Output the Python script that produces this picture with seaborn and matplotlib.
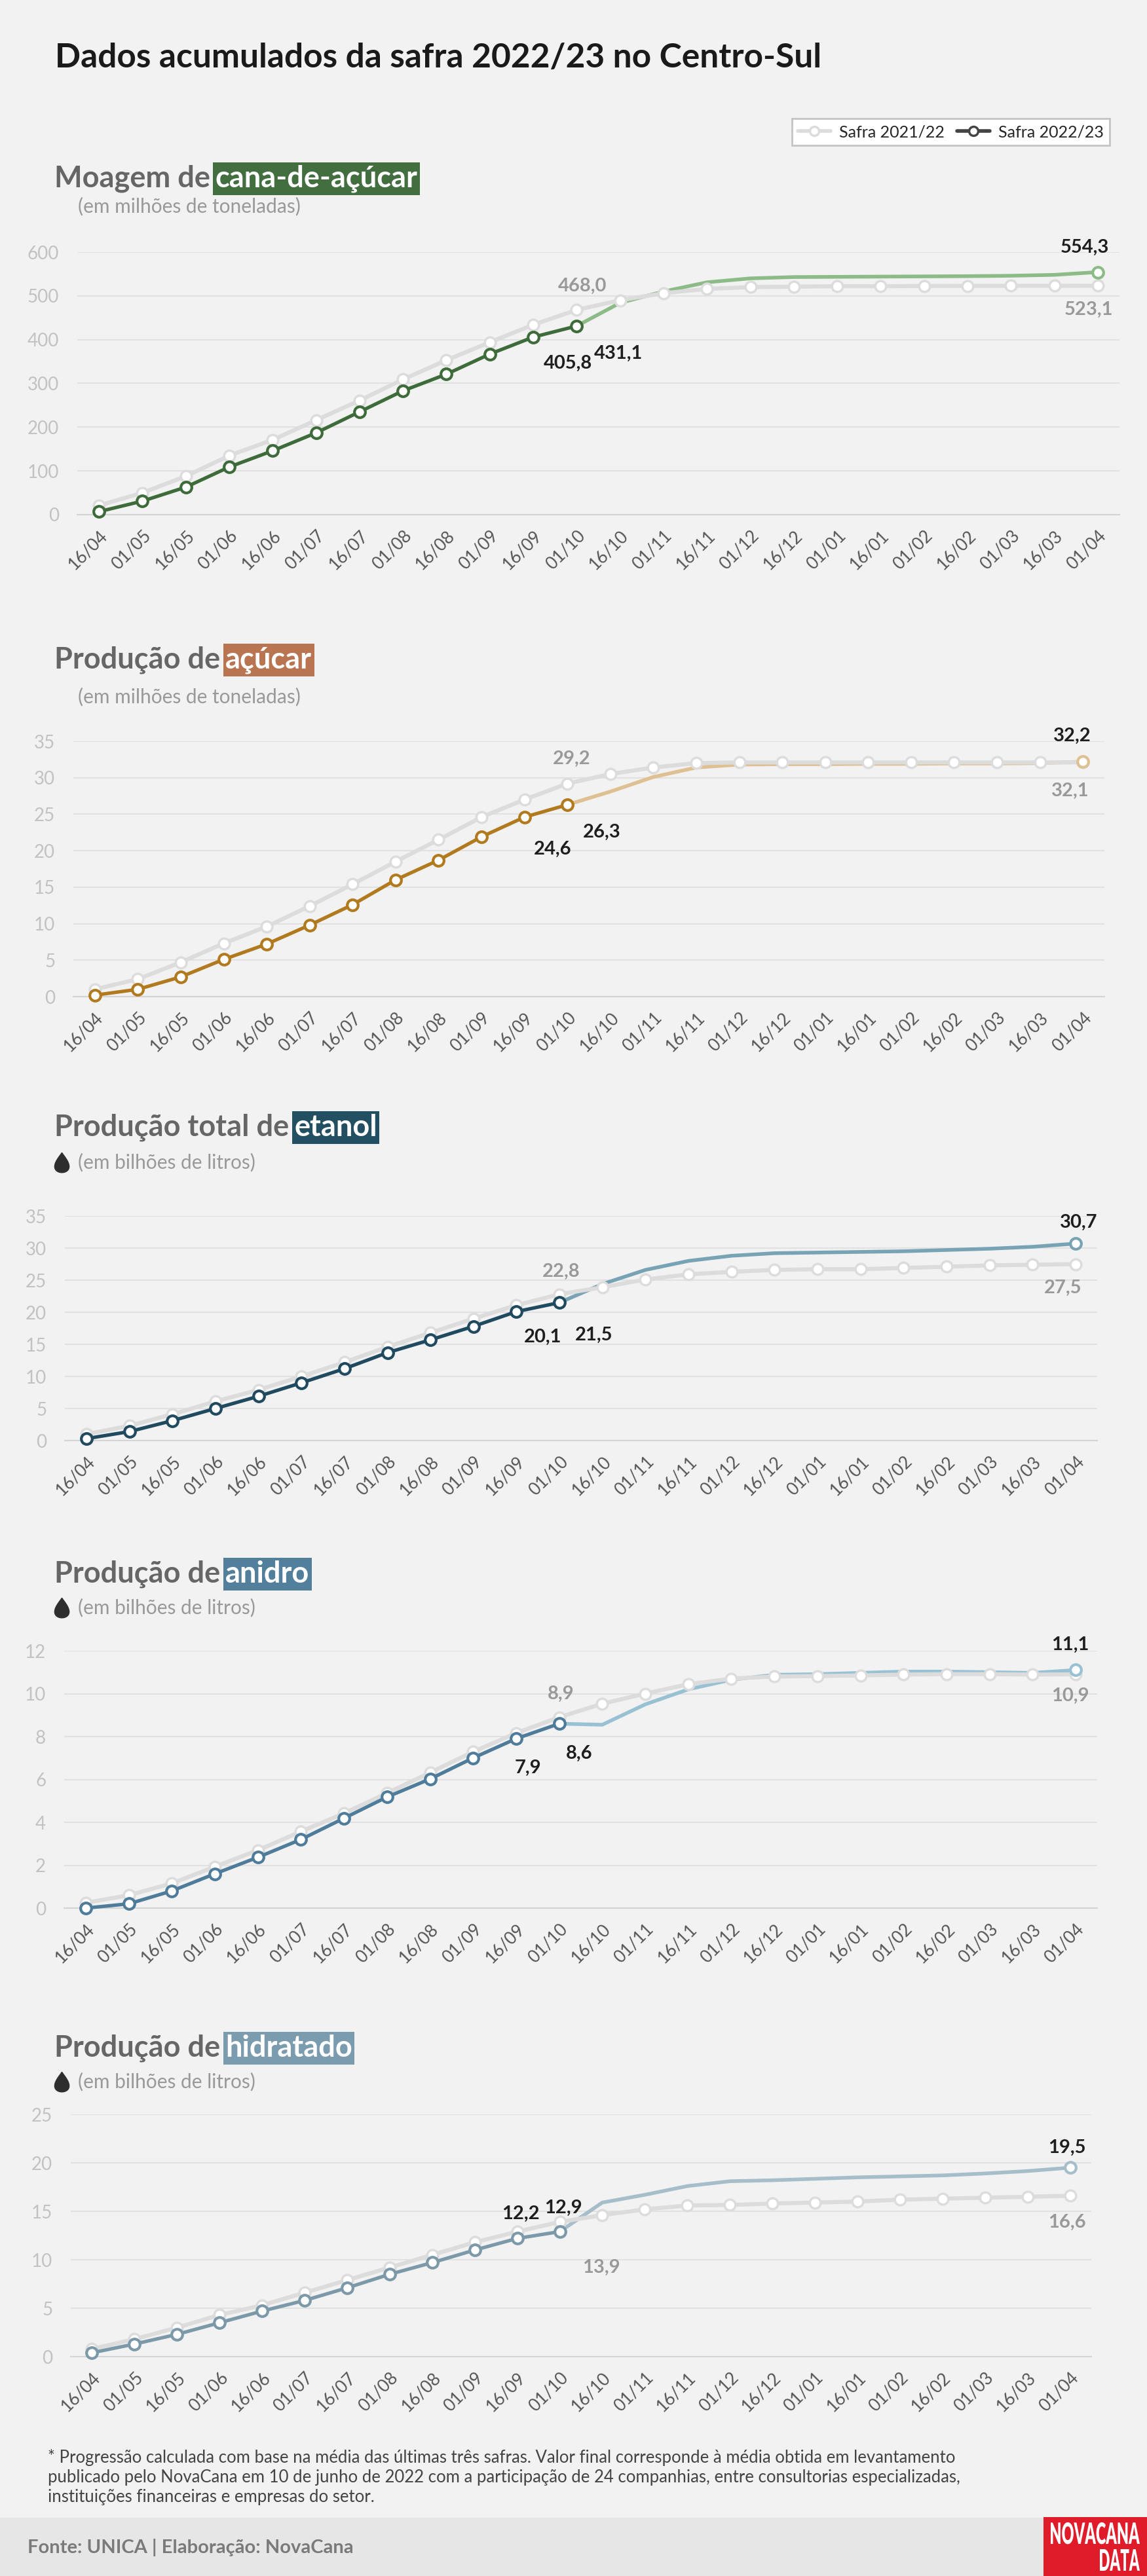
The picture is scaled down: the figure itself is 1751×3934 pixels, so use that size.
import numpy as np
import matplotlib
matplotlib.use("Agg")
import matplotlib.pyplot as plt
from matplotlib.lines import Line2D
from matplotlib.path import Path
from matplotlib.patches import Rectangle, PathPatch
from matplotlib.textpath import TextPath
from matplotlib.font_manager import FontProperties
from matplotlib.transforms import Affine2D, IdentityTransform
import seaborn as sns

# DATA
periodos = ["16/04", "01/05", "16/05", "01/06", "16/06", "01/07", "16/07", "01/08",
            "16/08", "01/09", "16/09", "01/10", "16/10", "01/11", "16/11", "01/12",
            "16/12", "01/01", "16/01", "01/02", "16/02", "01/03", "16/03", "01/04"]

moagem_2122 = [21, 50, 88, 135, 171, 216, 261, 309, 353, 394, 434, 468.0, 490, 506,
               516, 520, 521, 522, 522, 522.5, 522.8, 523, 523, 523.1]
moagem_2223 = [7, 31, 63, 109, 146, 187, 235, 283, 321, 367, 405.8, 431.1]
moagem_proj = [431.1, 484, 510, 531, 540, 543, 543.5, 544, 544.5, 545, 546, 548, 554.3]

acucar_2122 = [1.0, 2.4, 4.7, 7.3, 9.6, 12.4, 15.4, 18.5, 21.5, 24.6, 27.0, 29.2, 30.5,
               31.4, 32.0, 32.1, 32.1, 32.1, 32.1, 32.1, 32.1, 32.1, 32.1, 32.1]
acucar_2223 = [0.2, 1.0, 2.7, 5.1, 7.2, 9.8, 12.6, 16.0, 18.7, 21.9, 24.6, 26.3]
acucar_proj = [26.3, 28.1, 30.1, 31.4, 31.8, 31.85, 31.85, 31.9, 31.9, 31.95, 31.95, 32.0, 32.2]

etanol_2122 = [1.0, 2.3, 4.1, 6.1, 7.9, 10.0, 12.2, 14.6, 16.8, 19.0, 21.1, 22.8, 23.9,
               25.1, 25.9, 26.3, 26.6, 26.7, 26.7, 26.9, 27.1, 27.3, 27.4, 27.5]
etanol_2223 = [0.3, 1.4, 3.1, 5.0, 6.9, 9.0, 11.2, 13.7, 15.7, 17.8, 20.1, 21.5]
etanol_proj = [21.5, 24.4, 26.6, 28.0, 28.8, 29.2, 29.3, 29.4, 29.5, 29.7, 29.9, 30.2, 30.7]

anidro_2122 = [0.25, 0.6, 1.15, 1.93, 2.7, 3.57, 4.42, 5.36, 6.32, 7.29, 8.16, 8.9, 9.53,
               10.0, 10.44, 10.7, 10.8, 10.82, 10.85, 10.89, 10.91, 10.91, 10.89, 10.9]
anidro_2223 = [0.0, 0.2, 0.8, 1.6, 2.37, 3.2, 4.19, 5.18, 6.02, 7.0, 7.9, 8.6]
anidro_proj = [8.6, 8.55, 9.5, 10.2, 10.65, 10.88, 10.91, 10.97, 11.03, 11.03, 11.0, 10.97, 11.1]

hidratado_2122 = [0.8, 1.8, 3.0, 4.3, 5.3, 6.6, 7.9, 9.2, 10.5, 11.8, 12.9, 13.9, 14.6,
                  15.2, 15.6, 15.65, 15.8, 15.9, 16.0, 16.2, 16.3, 16.4, 16.5, 16.6]
hidratado_2223 = [0.4, 1.3, 2.3, 3.5, 4.7, 5.8, 7.1, 8.5, 9.7, 11.0, 12.2, 12.9]
hidratado_proj = [12.9, 15.9, 16.7, 17.6, 18.1, 18.2, 18.35, 18.5, 18.6, 18.7, 18.9, 19.15, 19.5]

BG = "#f2f2f2"
GREY = "#dcdcdc"
W, H = 1751, 3934

sns.set_theme(style="white", rc={"figure.facecolor": BG, "axes.facecolor": BG})
plt.rcParams['font.family'] = ['Lato', 'DejaVu Sans']

fig = plt.figure(figsize=(W / 100, H / 100), dpi=100)


def fx(px):
    return px / W


def fy(px):
    return 1 - px / H


def fmt(v):
    return f"{v:.1f}".replace(".", ",")


def drop_marker():
    t = np.linspace(0, 2 * np.pi, 80)
    return Path(np.column_stack([np.sin(t) * np.sin(t / 2) ** 1.3, np.cos(t)]))


def stretched_text(s, x0, x1, ytop, ybase, color):
    # text squeezed into a box given in pixels (top-left origin)
    tp = TextPath((0, 0), s, size=100, prop=FontProperties(family="Lato", weight="heavy"))
    ext = tp.get_extents()
    sx = (x1 - x0) / ext.width
    sy = (ybase - ytop) / ext.y1
    tr = Affine2D().translate(-ext.x0, 0).scale(sx, sy).translate(x0, H - ybase)
    fig.add_artist(PathPatch(tr.transform_path(tp), facecolor=color, edgecolor="none",
                             transform=IdentityTransform(), zorder=3))


def draw_panel(box, titulo, destaque, cor_box, unidade, gota, prev, atual, proj,
               cor, cor_proj, ymax, passo, rotulos):
    left, right, top, bottom, ty, sy = box
    ax = fig.add_axes([fx(left), fy(bottom), (right - left) / W, (bottom - top) / H])
    x = np.arange(len(periodos))
    xp = np.arange(len(atual) - 1, len(periodos))

    sns.lineplot(x=xp, y=proj, ax=ax, color=cor_proj, lw=4, zorder=2)
    sns.lineplot(x=x, y=prev, ax=ax, color=GREY, lw=4.5, marker="o", ms=12,
                 mfc="white", mec=GREY, mew=2.5, zorder=3, clip_on=False)
    sns.lineplot(x=x[:len(atual)], y=atual, ax=ax, color=cor, lw=3.8, marker="o", ms=12,
                 mfc="white", mec=cor, mew=3, zorder=4, clip_on=False)
    ax.plot([xp[-1]], [proj[-1]], "o", ms=12, mfc="white", mec=cor_proj, mew=3,
            zorder=5, clip_on=False)

    series = {"prev": prev, "atual": atual, "proj": proj}
    for nome, i, (dx, dy) in rotulos:
        vals = series[nome]
        xi = xp[i] if nome == "proj" else x[i]
        col = "#999999" if nome == "prev" else "#1e1e1e"
        ax.annotate(fmt(vals[i]), (xi, vals[i]), xytext=(dx, dy), textcoords="offset points",
                    ha="center", va="center", fontsize=21, fontweight="bold", color=col,
                    zorder=6)

    ax.set_xlim(-0.5, len(periodos) - 0.5)
    ax.set_ylim(0, ymax)
    ax.set_yticks(np.arange(0, ymax + 0.01, passo))
    ax.set_yticklabels([f"{v:g}" for v in np.arange(0, ymax + 0.01, passo)])
    ax.set_xticks(x)
    ax.set_xticklabels(periodos, rotation=45, ha="right", va="top", rotation_mode="anchor")
    ax.set_xticks(np.arange(-0.5, len(periodos), 1), minor=True)
    ax.tick_params(axis="x", which="major", length=0, pad=14, labelsize=19, labelcolor="#555555")
    ax.tick_params(axis="x", which="minor", length=8, width=1.5, color="#d4d4d4")
    ax.tick_params(axis="y", length=0, pad=20, labelsize=20, labelcolor="#c2c2c2")
    ax.yaxis.grid(True, color="#e1e1e1", lw=1.5)
    ax.set_axisbelow(True)
    for s in ["left", "top", "right"]:
        ax.spines[s].set_visible(False)
    ax.spines["bottom"].set_color("#d4d4d4")
    ax.spines["bottom"].set_linewidth(1.5)
    ax.set_xlabel("")
    ax.set_ylabel("")

    # panel title with highlighted word
    r = fig.canvas.get_renderer()
    t1 = fig.text(fx(83), fy(ty), titulo, fontsize=32.5, fontweight="bold", color="#666666",
                  va="center")
    bb = t1.get_window_extent(r)
    fig.text(bb.x1 / W + fx(8), fy(ty), destaque, fontsize=32.5, fontweight="bold",
             color="white", va="center",
             bbox=dict(boxstyle="square,pad=0.08", facecolor=cor_box, edgecolor="none"))
    if gota:
        fig.add_artist(Line2D([fx(94)], [fy(sy)], marker=drop_marker(), ms=22, color="#2e2e2e",
                              transform=fig.transFigure))
    fig.text(fx(119), fy(sy), unidade, fontsize=21.5, color="#999999", va="center")
    return ax


fig.text(fx(84), fy(89), "Dados acumulados da safra 2022/23 no Centro-Sul", fontsize=37,
         fontweight="bold", color="#1a1a1a", va="center")

handles = [Line2D([], [], color=GREY, lw=4, marker="o", ms=10, mfc="white", mec=GREY, mew=2.5),
           Line2D([], [], color="#444444", lw=4, marker="o", ms=10, mfc="white",
                  mec="#444444", mew=2.5)]
leg = fig.legend(handles, ["Safra 2021/22", "Safra 2022/23"], loc="upper right",
                 bbox_to_anchor=(fx(1706), fy(169)), ncol=2, frameon=True, fontsize=18,
                 edgecolor="#c4c4c4", facecolor="white", fancybox=False, handlelength=2.0,
                 columnspacing=0.8, handletextpad=0.5, borderpad=0.35)
leg.get_frame().set_linewidth(2)
leg.get_frame().set_alpha(1)

draw_panel((118, 1709, 385, 786, 273, 315), "Moagem de", "cana-de-açúcar", "#436e40",
           "(em milhões de toneladas)", False, moagem_2122, moagem_2223, moagem_proj,
           "#3e6b3a", "#8dbb88", 600, 100,
           [("prev", 11, (6, 26)), ("atual", 10, (38, -29)), ("atual", 11, (46, -30)),
            ("proj", -1, (-14, 27)), ("prev", 23, (-10, -26))])

draw_panel((112, 1686, 1132, 1522, 1008, 1064), "Produção de", "açúcar", "#b97452",
           "(em milhões de toneladas)", False, acucar_2122, acucar_2223, acucar_proj,
           "#b27a1e", "#dfc092", 35, 5,
           [("prev", 11, (5, 27)), ("atual", 10, (31, -35)), ("atual", 11, (38, -30)),
            ("proj", -1, (-12, 28)), ("prev", 23, (-14, -31))])

draw_panel((99, 1675, 1857, 2200, 1722, 1775), "Produção total de", "etanol", "#234f63",
           "(em bilhões de litros)", True, etanol_2122, etanol_2223, etanol_proj,
           "#1f4a5f", "#78a3b5", 35, 5,
           [("prev", 11, (2, 25)), ("atual", 10, (29, -28)), ("atual", 11, (38, -36)),
            ("proj", -1, (3, 23)), ("prev", 23, (-14, -26))])

draw_panel((98, 1675, 2521, 2914, 2404, 2455), "Produção de", "anidro", "#517f9c",
           "(em bilhões de litros)", True, anidro_2122, anidro_2223, anidro_proj,
           "#4e7c9a", "#98c1d4", 12, 2,
           [("prev", 11, (2, 26)), ("atual", 10, (13, -32)), ("atual", 11, (22, -33)),
            ("proj", -1, (-6, 28)), ("prev", 23, (-6, -24))])

draw_panel((108, 1666, 3229, 3599, 3128, 3179), "Produção de", "hidratado", "#7b9cae",
           "(em bilhões de litros)", True, hidratado_2122, hidratado_2223, hidratado_proj,
           "#7b99a8", "#a6bdca", 25, 5,
           [("atual", 10, (4, 27)), ("atual", 11, (4, 26)), ("prev", 11, (46, -50)),
            ("proj", -1, (-3, 22)), ("prev", 23, (-3, -29))])

nota = ("* Progressão calculada com base na média das últimas três safras. Valor final corresponde à média obtida em levantamento\n"
        "publicado pelo NovaCana em 10 de junho de 2022 com a participação de 24 companhias, entre consultorias especializadas,\n"
        "instituições financeiras e empresas do setor.")
fig.text(fx(73), fy(3740), nota, fontsize=18.5, color="#444444", va="top", linespacing=1.25)

fig.add_artist(Rectangle((0, 0), 1, fy(3845), transform=fig.transFigure,
                         facecolor="#e6e6e6", edgecolor="none", zorder=0))
fig.text(fx(42), fy(3890), "Fonte: UNICA | Elaboração: NovaCana", fontsize=21,
         fontweight="bold", color="#7a7a7a", va="center")
fig.add_artist(Rectangle((fx(1593), 0), 1 - fx(1593), fy(3844), transform=fig.transFigure,
                         facecolor="#e01b2a", edgecolor="none", zorder=1))
stretched_text("NOVACANA", 1604, 1740, 3852, 3885, "white")
stretched_text("DATA", 1679, 1740, 3893, 3926, "white")

fig.savefig("out.png", dpi=100, facecolor=BG)
